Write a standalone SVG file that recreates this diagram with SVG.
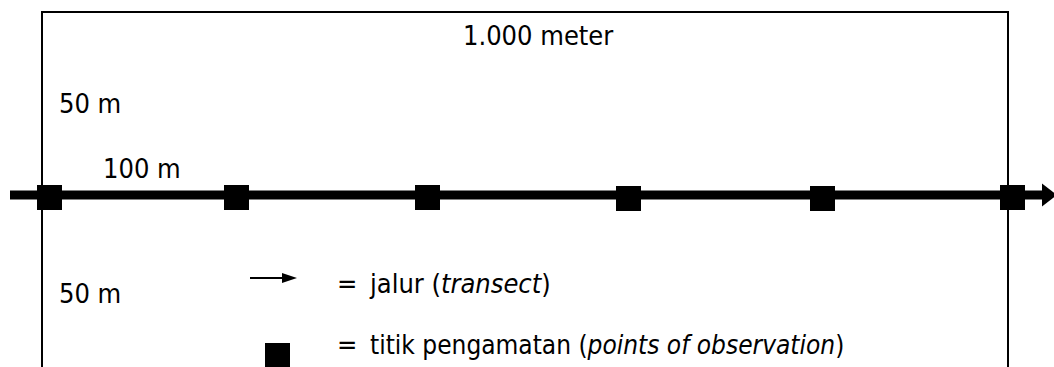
<svg xmlns="http://www.w3.org/2000/svg" width="1054" height="367" viewBox="0 0 1054 367">
<style>
  text { font-family: "DejaVu Sans Condensed", "DejaVu Sans", sans-serif; font-stretch: condensed; font-size: 27px; fill: #000; }
  .it { font-style: italic; }
  .sm { font-size: 26px; }
  .pt { fill: #000; }
  .frame { fill: none; stroke: #000; stroke-width: 2; }
</style>
<defs>
  <marker id="bigHead" markerUnits="userSpaceOnUse" markerWidth="16" markerHeight="24" refX="0" refY="11.5" orient="auto" overflow="visible">
    <path d="M0,0 L15,11.5 L0,23 Z" fill="#000"/>
  </marker>
  <marker id="smallHead" markerUnits="userSpaceOnUse" markerWidth="16" markerHeight="12" refX="0" refY="5" orient="auto" overflow="visible">
    <path d="M0,0 L15,5 L0,10 Z" fill="#000"/>
  </marker>
</defs>
<rect width="1054" height="367" fill="#fff"/>
<g id="plot">
  <path class="frame" d="M42,380 V12 H1008 V380"/>
</g>
<g id="labels">
  <text x="463" y="45">1.000 meter</text>
  <text x="59" y="113">50 m</text>
  <text x="103" y="178">100 m</text>
  <text x="59" y="303">50 m</text>
</g>
<g id="connectors">
  <line x1="10" y1="195" x2="1042" y2="195" stroke="#000" stroke-width="9" marker-end="url(#bigHead)"/>
</g>
<g id="point1"><rect class="pt" x="37" y="185" width="25" height="25"/></g>
<g id="point2"><rect class="pt" x="224" y="185" width="25" height="25"/></g>
<g id="point3"><rect class="pt" x="415" y="185" width="25" height="25"/></g>
<g id="point4"><rect class="pt" x="616" y="186" width="25" height="25"/></g>
<g id="point5"><rect class="pt" x="810" y="186" width="25" height="25"/></g>
<g id="point6"><rect class="pt" x="1000" y="185" width="25" height="25"/></g>
<g id="legend">
  <line x1="250" y1="278" x2="282" y2="278" stroke="#000" stroke-width="2" marker-end="url(#smallHead)"/>
  <text x="337" y="293">=</text>
  <text x="370" y="293">jalur (<tspan class="it">transect</tspan>)</text>
  <rect class="pt" x="265" y="343" width="25" height="25"/>
  <text x="337" y="354">=</text>
  <text class="sm" x="370" y="354">titik pengamatan (<tspan class="it">points of observation</tspan>)</text>
</g>
</svg>
